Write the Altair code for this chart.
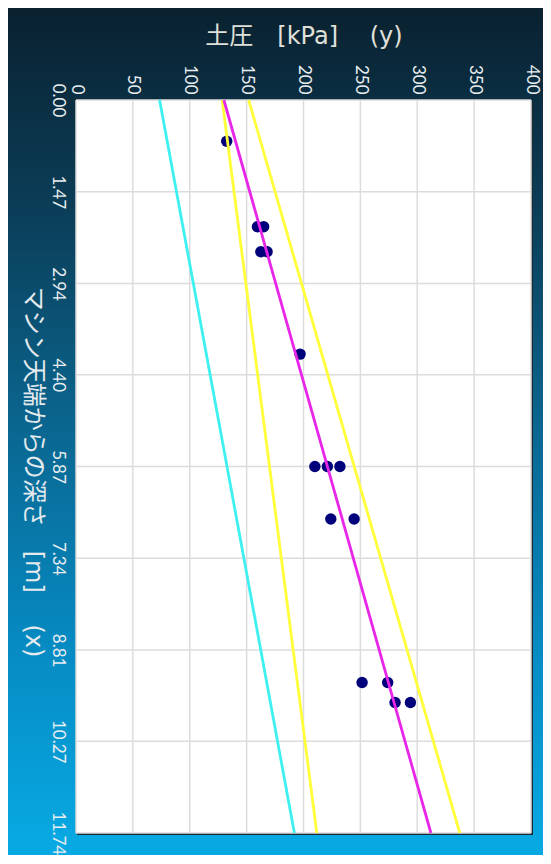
import altair as alt
import pandas as pd

# ---- data ----
pt_depth = [0.66, 2.03, 2.03, 2.43, 2.43, 4.07, 5.87, 5.87, 5.87, 6.71, 6.71, 9.33, 9.33, 9.65, 9.65]
pt_press = [132.5, 159.5, 165.0, 162.5, 168.0, 197.0, 210.0, 221.0, 232.0, 224.0, 244.5, 251.5, 274.0, 280.5, 294.0]

line_names = ["cyan", "yellow_lo", "yellow_hi", "magenta"]
line_colors = ["#3ff0f0", "#ffff3a", "#ffff3a", "#e826e8"]
line_depth_ends = [0.0, 11.74]
line_press_top = [73.5, 128.5, 151.8, 130.0]
line_press_bottom = [192.0, 211.7, 337.4, 312.0]

press_ticks = [0, 50, 100, 150, 200, 250, 300, 350, 400]
depth_ticks = [0.00, 1.47, 2.94, 4.40, 5.87, 7.34, 8.81, 10.27, 11.74]

x_title = "土圧　[kPa]　 (y)"
y_title = "マシン天端からの深さ　[m]　 (x)"

W, H = 455, 733
PAD = {"left": 68, "top": 92, "right": 12, "bottom": 22}
TITLE_FONT = "DejaVu Sans, Noto Sans CJK JP"
LABEL_FONT = "Lato"

pts = pd.DataFrame({"d": pt_depth, "p": pt_press})
rows = []
for n, a, b in zip(line_names, line_press_top, line_press_bottom):
    rows.append({"name": n, "d": line_depth_ends[0], "p": a})
    rows.append({"name": n, "d": line_depth_ends[1], "p": b})
lines = pd.DataFrame(rows)
pgrid = pd.DataFrame({"p": press_ticks})
dgrid = pd.DataFrame({"d": depth_ticks})
one = pd.DataFrame({"k": [0]})

xs = alt.Scale(domain=[0, 400], nice=False, zero=False)
ys = alt.Scale(domain=[0, 11.74], nice=False, zero=False, reverse=True)

grad = alt.LinearGradient(
    gradient="linear", x1=0, y1=0, x2=0, y2=1,
    stops=[
        alt.GradientStop(color="#0a2130", offset=0),
        alt.GradientStop(color="#0b3f5a", offset=0.25),
        alt.GradientStop(color="#0a6791", offset=0.5),
        alt.GradientStop(color="#068ac2", offset=0.75),
        alt.GradientStop(color="#08aae4", offset=1),
    ],
)

xaxis = alt.Axis(
    orient="top", values=press_ticks, labelAngle=90, labelAlign="right",
    labelBaseline="middle", labelPadding=6, labelFontSize=17,
    labelFont=LABEL_FONT, labelColor="#e8eef0",
    labelOverlap=False, labelFlush=False, labelBound=False,
    title=x_title, titleFont=TITLE_FONT, titleFontSize=24,
    titleFontWeight="normal", titleColor="#e0e0da",
    titleX=W / 2, titleY=-64, titleAlign="center", titleBaseline="middle",
    titleAngle=0, domain=False, ticks=False, grid=False, zindex=1,
)
yaxis = alt.Axis(
    orient="left", values=depth_ticks, format=".2f", labelAngle=90,
    labelAlign="center", labelBaseline="top", labelPadding=11,
    labelFontSize=17, labelFont=LABEL_FONT, labelColor="#e8eef0",
    labelOverlap=False, labelFlush=False, labelBound=False,
    title=y_title, titleFont=TITLE_FONT, titleFontSize=24,
    titleFontWeight="normal", titleColor="#e4eaee",
    titleX=-44, titleY=H / 2 + 5, titleAlign="center", titleBaseline="middle",
    titleAngle=90, domain=False, ticks=False, grid=False, zindex=1,
)

bg = alt.Chart(one).mark_rect(fill=grad).encode(
    x=alt.value(-PAD["left"]), x2=alt.value(W + PAD["right"]),
    y=alt.value(-PAD["top"]), y2=alt.value(H + PAD["bottom"]),
)
shadow = alt.Chart(one).mark_rect(fill="#1b2b35").encode(
    x=alt.value(1), x2=alt.value(W + 2), y=alt.value(1), y2=alt.value(H + 2)
)
plotbg = alt.Chart(one).mark_rect(fill="#ffffff").encode(
    x=alt.value(0), x2=alt.value(W), y=alt.value(0), y2=alt.value(H)
)
vgrid = alt.Chart(pgrid).mark_rule(color="#dcdcdc", strokeWidth=1.5).encode(
    x=alt.X("p:Q", scale=xs, axis=xaxis)
)
hgrid = alt.Chart(dgrid).mark_rule(color="#dcdcdc", strokeWidth=1.5).encode(
    y=alt.Y("d:Q", scale=ys, axis=yaxis)
)

points = alt.Chart(pts).mark_circle(size=130, color="#00007a", opacity=1).encode(
    x=alt.X("p:Q", scale=xs, axis=xaxis),
    y=alt.Y("d:Q", scale=ys, axis=yaxis),
)
linechart = alt.Chart(lines).mark_line(strokeWidth=2.8).encode(
    x=alt.X("p:Q", scale=xs, axis=xaxis),
    y=alt.Y("d:Q", scale=ys, axis=yaxis),
    color=alt.Color("name:N", scale=alt.Scale(domain=line_names, range=line_colors), legend=None),
    detail="name:N",
)

chart = alt.layer(bg, shadow, plotbg, vgrid, hgrid, points, linechart).properties(
    width=W, height=H, padding=PAD,
    autosize=alt.AutoSizeParams(type="none"),
).configure_view(stroke=None)

chart.save("out.html", embed_options={"renderer": "svg", "actions": False})
